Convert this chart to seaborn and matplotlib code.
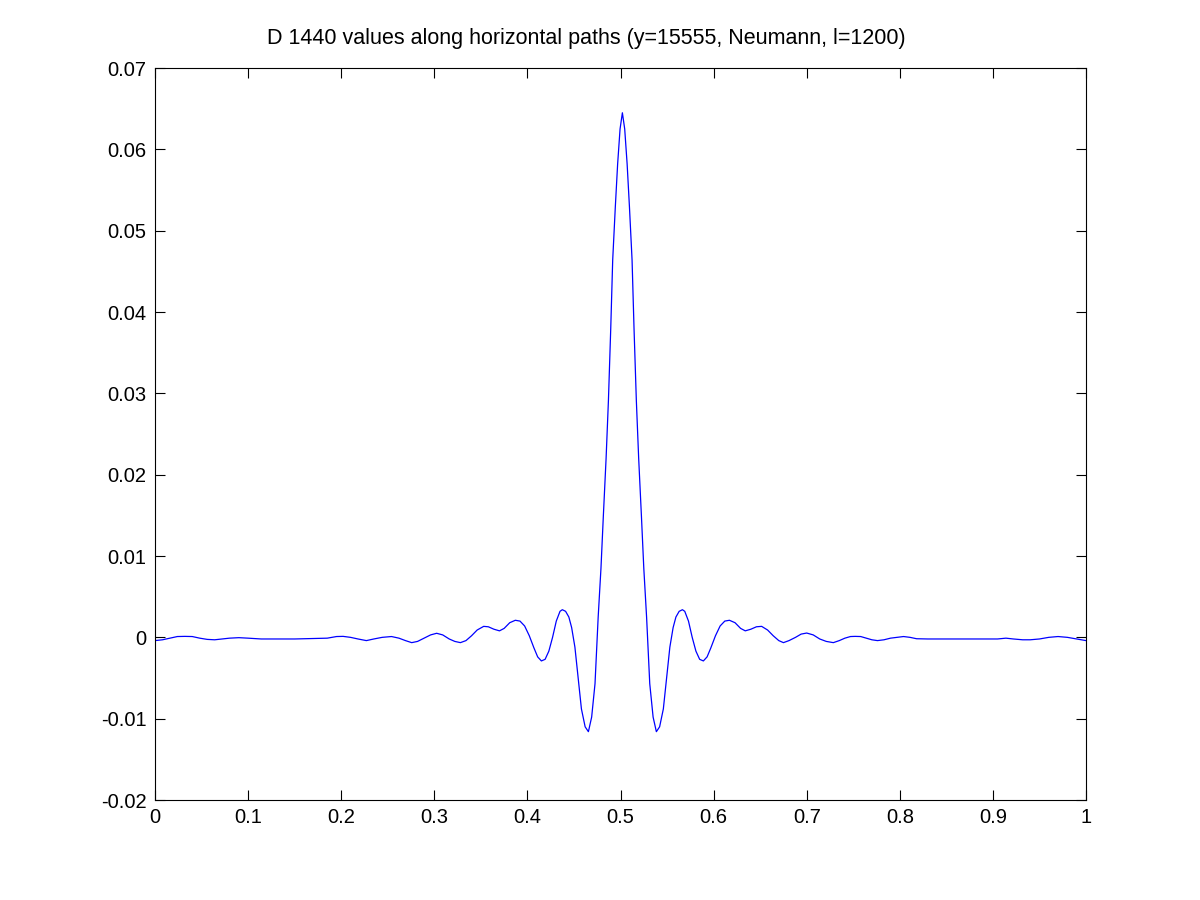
import pandas as pd
import matplotlib
matplotlib.use("Agg")
import matplotlib.pyplot as plt
import seaborn as sns

# values (left tail, centre, right tail)
x_vals = [
    0.000, 0.008, 0.016, 0.024, 0.032, 0.040, 0.048, 0.056, 0.064, 0.072,
    0.080, 0.090, 0.100, 0.114, 0.130, 0.150, 0.170, 0.185, 0.195, 0.202,
    0.210, 0.218, 0.227, 0.235, 0.244, 0.254, 0.262, 0.269, 0.2757, 0.282,
    0.289, 0.296, 0.3025, 0.309, 0.316, 0.322, 0.328, 0.334, 0.340, 0.346,
    0.353, 0.358, 0.364, 0.370, 0.375, 0.381, 0.387, 0.392, 0.397, 0.402,
    0.407, 0.411, 0.415, 0.419, 0.423, 0.427, 0.431, 0.435, 0.4375, 0.441,
    0.4445, 0.4475, 0.451, 0.4545, 0.458, 0.462, 0.4655, 0.469, 0.4726, 0.476,
    0.479, 0.4815, 0.4845, 0.487, 0.4895, 0.4916, 0.4944, 0.4969, 0.4995, 0.502,
    0.5045, 0.5071, 0.5096, 0.5124, 0.5145, 0.517, 0.5195, 0.5225, 0.525, 0.528,
    0.5314, 0.535, 0.5385, 0.542, 0.546, 0.5495, 0.553, 0.5565, 0.5595, 0.563,
    0.5665, 0.569, 0.573, 0.577, 0.581, 0.585, 0.589, 0.593, 0.597, 0.602,
    0.607, 0.612, 0.617, 0.623, 0.629, 0.634, 0.640, 0.646, 0.6516, 0.658,
    0.664, 0.670, 0.675, 0.681, 0.688, 0.694, 0.700, 0.707, 0.714, 0.721,
    0.7286, 0.735, 0.741, 0.747, 0.752, 0.758, 0.764, 0.770, 0.776, 0.783,
    0.790, 0.797, 0.804, 0.811, 0.818, 0.830, 0.850, 0.870, 0.890, 0.905,
    0.914, 0.922, 0.932, 0.940, 0.950, 0.960, 0.970, 0.980, 0.990, 1.000,
]
y_vals = [
    -0.0004, -0.0003, -0.0001, 0.0001, 0.00012, 0.0001, -0.0001, -0.00025, -0.0003, -0.0002,
    -0.0001, -0.00004, -0.0001, -0.0002, -0.0002, -0.0002, -0.00015, -0.0001, 0.0001, 0.00012,
    0.0000, -0.0002, -0.0004, -0.0002, 0.0000, 0.0001, -0.0001, -0.0004, -0.00065, -0.0005,
    -0.0001, 0.0003, 0.0005, 0.0003, -0.0002, -0.0005, -0.00065, -0.0004, 0.0002, 0.0009,
    0.00135, 0.0013, 0.0010, 0.0008, 0.0011, 0.0018, 0.0021, 0.0020, 0.0014, 0.0002,
    -0.0013, -0.0024, -0.0029, -0.0027, -0.0017, 0.0000, 0.0020, 0.0032, 0.0034, 0.0032,
    0.0025, 0.0012, -0.0012, -0.0050, -0.0088, -0.0110, -0.0116, -0.0098, -0.0057, 0.0025,
    0.0085, 0.0148, 0.0220, 0.0291, 0.0380, 0.0464, 0.0529, 0.0582, 0.0625, 0.0645,
    0.0625, 0.0582, 0.0529, 0.0464, 0.0380, 0.0291, 0.0220, 0.0148, 0.0085, 0.0025,
    -0.0057, -0.0098, -0.0116, -0.0110, -0.0088, -0.0050, -0.0012, 0.0012, 0.0025, 0.0032,
    0.0034, 0.0032, 0.0020, 0.0000, -0.0017, -0.0027, -0.0029, -0.0024, -0.0013, 0.0002,
    0.0014, 0.0020, 0.0021, 0.0018, 0.0011, 0.0008, 0.0010, 0.0013, 0.00135, 0.0009,
    0.0002, -0.0004, -0.00065, -0.0004, 0.0000, 0.0004, 0.00053, 0.0003, -0.0002, -0.0005,
    -0.00065, -0.0004, -0.0001, 0.0001, 0.00012, 0.0001, -0.0001, -0.0003, -0.0004, -0.0003,
    -0.0001, 0.0000, 0.0001, 0.0000, -0.00017, -0.0002, -0.0002, -0.0002, -0.0002, -0.0002,
    -0.0001, -0.0002, -0.0003, -0.0003, -0.0002, 0.0000, 0.0001, 0.0000, -0.0002, -0.0004,
]

x_ticks = [0, 0.1, 0.2, 0.3, 0.4, 0.5, 0.6, 0.7, 0.8, 0.9, 1]
x_tick_labels = ["0", "0.1", "0.2", "0.3", "0.4", "0.5", "0.6", "0.7", "0.8", "0.9", "1"]
y_ticks = [-0.02, -0.01, 0, 0.01, 0.02, 0.03, 0.04, 0.05, 0.06, 0.07]
y_tick_labels = ["-0.02", "-0.01", "0", "0.01", "0.02", "0.03", "0.04", "0.05", "0.06", "0.07"]
title = "D 1440 values along horizontal paths (y=15555, Neumann, l=1200)"

sns.set_style("white")
plt.rcParams["font.family"] = ["Liberation Sans", "DejaVu Sans"]

df = pd.DataFrame({"x": x_vals, "y": y_vals})

fig = plt.figure(figsize=(12, 9), dpi=100)
ax = fig.add_axes([0.1292, 0.1111, 0.7758, 0.8133])
sns.lineplot(data=df, x="x", y="y", ax=ax, color="#0000ff", linewidth=0.9,
             sort=False, estimator=None)

ax.set_xlim(0, 1)
ax.set_ylim(-0.02, 0.07)
ax.set_xticks(x_ticks)
ax.set_xticklabels(x_tick_labels)
ax.set_yticks(y_ticks)
ax.set_yticklabels(y_tick_labels)
ax.set_xlabel("")
ax.set_ylabel("")
ax.tick_params(direction="in", top=True, right=True, bottom=True, left=True,
               length=7, width=0.8, labelsize=14.5, colors="black", pad=6)
for s in ax.spines.values():
    s.set_color("black")
    s.set_linewidth(0.8)
# title sits a little left of the axes centre in the reference
ax.set_title(title, fontsize=15.5, pad=17, color="black", x=0.463)

fig.savefig("out.png", dpi=100, facecolor="white")
